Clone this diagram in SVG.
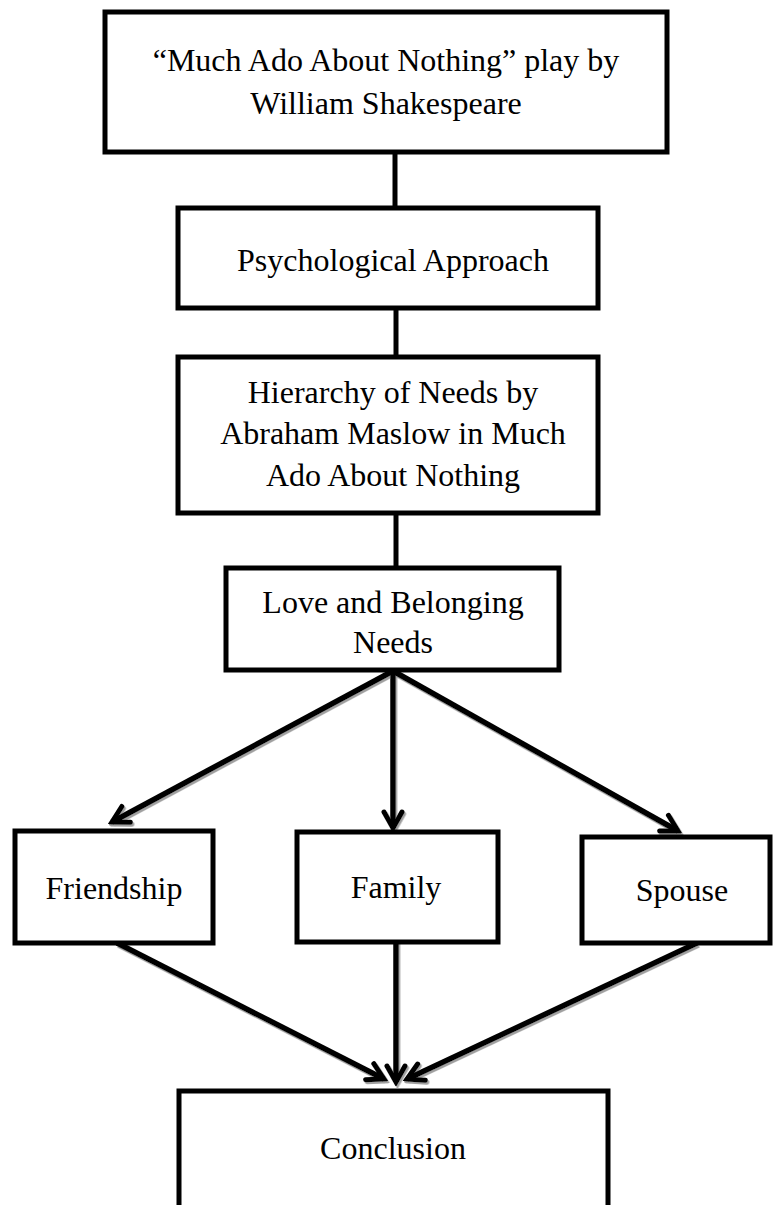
<svg xmlns="http://www.w3.org/2000/svg" width="775" height="1205" viewBox="0 0 775 1205">
<style>
.box{fill:#fff;stroke:#000;stroke-width:5}
.lbl{font-family:"Liberation Serif","Times New Roman",serif;font-size:32px;fill:#000;text-anchor:middle}
.ln{stroke:#000;stroke-width:5;fill:none}
.arr{stroke:#000;stroke-width:5.5;fill:none;marker-end:url(#ah)}
</style>
<defs>
<marker id="ah" viewBox="0 0 24 24" refX="20" refY="12" markerWidth="24" markerHeight="24" markerUnits="userSpaceOnUse" orient="auto">
<path d="M4,3 L20,12 L4,21" fill="none" stroke="#000" stroke-width="5" stroke-linecap="round"/>
</marker>
<filter id="sh" x="-10%" y="-10%" width="120%" height="120%">
<feDropShadow dx="1.5" dy="2" stdDeviation="0.6" flood-color="#888" flood-opacity="0.8"/>
</filter>
</defs>
<g id="connectors">
<line class="ln" x1="395" y1="152" x2="395" y2="208"/>
<line class="ln" x1="396" y1="308" x2="396" y2="357"/>
<line class="ln" x1="396" y1="513" x2="396" y2="568"/>
<g filter="url(#sh)">
<line class="arr" x1="393" y1="671" x2="112" y2="822"/>
<line class="arr" x1="393" y1="671" x2="393" y2="828"/>
<line class="arr" x1="393" y1="671" x2="678" y2="831"/>
<line class="arr" x1="117" y1="943" x2="384" y2="1079"/>
<line class="arr" x1="396" y1="942" x2="396" y2="1082"/>
<line class="arr" x1="697" y1="943" x2="407" y2="1079"/>
</g>
</g>
<g id="n1">
<rect class="box" x="105" y="12" width="562" height="140"/>
<text class="lbl" x="386" y="71">“Much Ado About Nothing” play by</text>
<text class="lbl" x="386" y="114">William Shakespeare</text>
</g>
<g id="n2">
<rect class="box" x="178" y="208" width="420" height="100"/>
<text class="lbl" x="393" y="271">Psychological Approach</text>
</g>
<g id="n3">
<rect class="box" x="178" y="357" width="420" height="156"/>
<text class="lbl" x="393" y="403">Hierarchy of Needs by</text>
<text class="lbl" x="393" y="444">Abraham Maslow in Much</text>
<text class="lbl" x="393" y="486">Ado About Nothing</text>
</g>
<g id="n4">
<rect class="box" x="226" y="568" width="333" height="102"/>
<text class="lbl" x="393" y="613">Love and Belonging</text>
<text class="lbl" x="393" y="653">Needs</text>
</g>
<g id="n5">
<rect class="box" x="15" y="831" width="198" height="112"/>
<text class="lbl" x="114" y="899">Friendship</text>
</g>
<g id="n6">
<rect class="box" x="297" y="832" width="201" height="110"/>
<text class="lbl" x="396" y="898">Family</text>
</g>
<g id="n7">
<rect class="box" x="582" y="837" width="188" height="106"/>
<text class="lbl" x="682" y="901">Spouse</text>
</g>
<g id="n8">
<rect class="box" x="179" y="1091" width="429" height="150"/>
<text class="lbl" x="393" y="1159">Conclusion</text>
</g>
</svg>
